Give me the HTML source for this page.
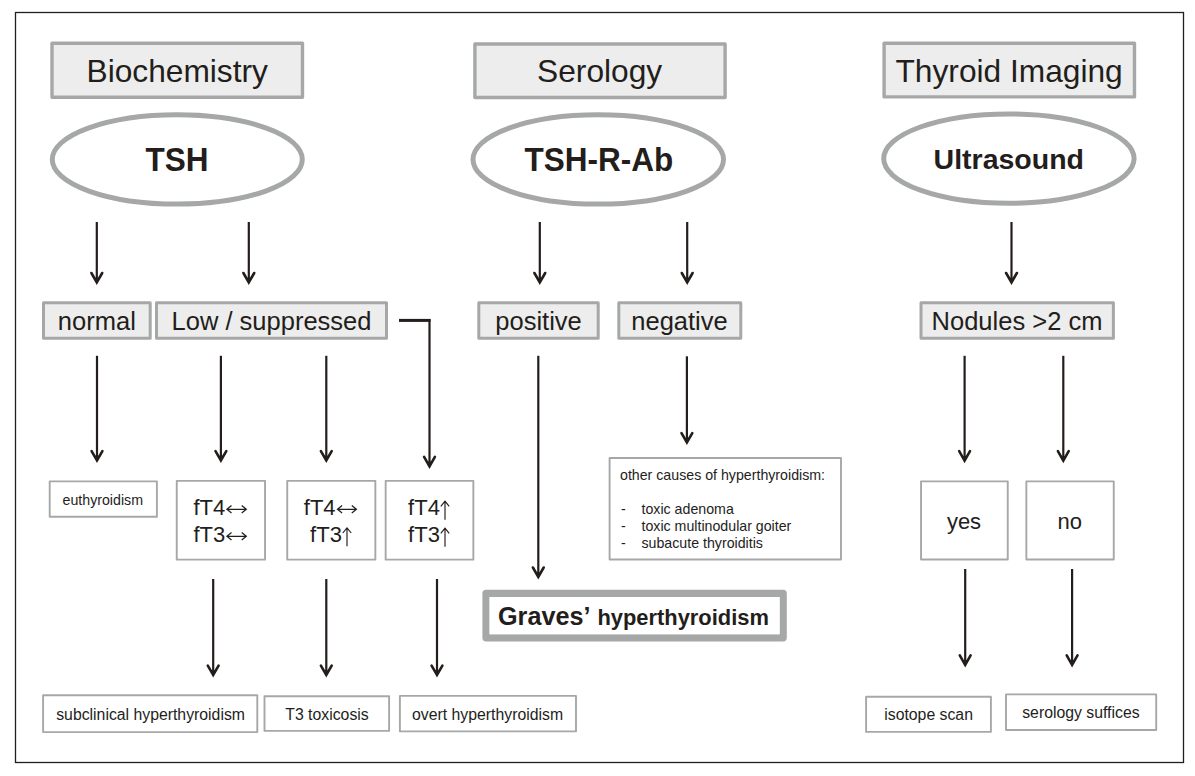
<!DOCTYPE html>
<html><head><meta charset="utf-8"><style>
html,body{margin:0;padding:0;background:#fff;width:1195px;height:776px;overflow:hidden}
svg{display:block}
text{font-family:"Liberation Sans",sans-serif;fill:#231d1b}
</style></head><body>
<svg width="1195" height="776" viewBox="0 0 1195 776">
<rect width="1195" height="776" fill="#fff"/>
<rect x="15.5" y="12.5" width="1168" height="750" fill="none" stroke="#231d1b" stroke-width="1.3"/>
<rect x="52.00" y="43.30" width="250.50" height="53.90" fill="#ecedec" stroke="#a6a8a8" stroke-width="3.4" stroke-linejoin="round"/>
<rect x="474.90" y="44.00" width="250.20" height="53.50" fill="#ecedec" stroke="#a6a8a8" stroke-width="3.4" stroke-linejoin="round"/>
<rect x="884.10" y="43.30" width="250.40" height="53.60" fill="#ecedec" stroke="#a6a8a8" stroke-width="3.4" stroke-linejoin="round"/>
<text x="86.50" y="81.80" font-size="31.7" font-weight="normal" text-anchor="start" >Biochemistry</text>
<text x="537.10" y="81.80" font-size="31.7" font-weight="normal" text-anchor="start" >Serology</text>
<text x="895.50" y="81.80" font-size="31.7" font-weight="normal" text-anchor="start" >Thyroid Imaging</text>
<ellipse cx="177.30" cy="159.45" rx="125.00" ry="44.65" fill="none" stroke="#a6a8a8" stroke-width="5.0"/>
<ellipse cx="598.25" cy="159.45" rx="125.25" ry="44.65" fill="none" stroke="#a6a8a8" stroke-width="5.0"/>
<ellipse cx="1008.90" cy="158.60" rx="125.20" ry="44.70" fill="none" stroke="#a6a8a8" stroke-width="5.0"/>
<text transform="translate(177.00 171.00) scale(1 1.05)" x="0" y="0" font-size="31.5" font-weight="bold" text-anchor="middle" >TSH</text>
<text transform="translate(598.80 171.00) scale(1 1.05)" x="0" y="0" font-size="31.5" font-weight="bold" text-anchor="middle" >TSH-R-Ab</text>
<text x="1008.80" y="169.40" font-size="28.5" font-weight="bold" text-anchor="middle" >Ultrasound</text>
<path d="M96.80 222.00 V280.40" stroke="#231d1b" stroke-width="2.2" fill="none"/>
<path d="M91.40 273.00 L96.80 282.40 L102.20 273.00" stroke="#231d1b" stroke-width="2.6" fill="none" stroke-linecap="round" stroke-linejoin="miter" stroke-miterlimit="10"/>
<path d="M93.90 277.70 L99.70 277.70 L96.80 283.30Z" fill="#231d1b"/>
<path d="M248.80 222.00 V280.40" stroke="#231d1b" stroke-width="2.2" fill="none"/>
<path d="M243.40 273.00 L248.80 282.40 L254.20 273.00" stroke="#231d1b" stroke-width="2.6" fill="none" stroke-linecap="round" stroke-linejoin="miter" stroke-miterlimit="10"/>
<path d="M245.90 277.70 L251.70 277.70 L248.80 283.30Z" fill="#231d1b"/>
<path d="M539.80 222.00 V280.40" stroke="#231d1b" stroke-width="2.2" fill="none"/>
<path d="M534.40 273.00 L539.80 282.40 L545.20 273.00" stroke="#231d1b" stroke-width="2.6" fill="none" stroke-linecap="round" stroke-linejoin="miter" stroke-miterlimit="10"/>
<path d="M536.90 277.70 L542.70 277.70 L539.80 283.30Z" fill="#231d1b"/>
<path d="M687.20 222.00 V280.40" stroke="#231d1b" stroke-width="2.2" fill="none"/>
<path d="M681.80 273.00 L687.20 282.40 L692.60 273.00" stroke="#231d1b" stroke-width="2.6" fill="none" stroke-linecap="round" stroke-linejoin="miter" stroke-miterlimit="10"/>
<path d="M684.30 277.70 L690.10 277.70 L687.20 283.30Z" fill="#231d1b"/>
<path d="M1011.50 222.00 V280.40" stroke="#231d1b" stroke-width="2.2" fill="none"/>
<path d="M1006.10 273.00 L1011.50 282.40 L1016.90 273.00" stroke="#231d1b" stroke-width="2.6" fill="none" stroke-linecap="round" stroke-linejoin="miter" stroke-miterlimit="10"/>
<path d="M1008.60 277.70 L1014.40 277.70 L1011.50 283.30Z" fill="#231d1b"/>
<rect x="43.50" y="302.70" width="106.70" height="35.50" fill="#ecedec" stroke="#a6a8a8" stroke-width="3.0" stroke-linejoin="round"/>
<rect x="156.50" y="302.70" width="230.00" height="35.50" fill="#ecedec" stroke="#a6a8a8" stroke-width="3.0" stroke-linejoin="round"/>
<rect x="478.80" y="302.70" width="119.40" height="35.50" fill="#ecedec" stroke="#a6a8a8" stroke-width="3.0" stroke-linejoin="round"/>
<rect x="618.80" y="302.70" width="122.00" height="35.50" fill="#ecedec" stroke="#a6a8a8" stroke-width="3.0" stroke-linejoin="round"/>
<rect x="921.00" y="302.70" width="192.40" height="35.50" fill="#ecedec" stroke="#a6a8a8" stroke-width="3.0" stroke-linejoin="round"/>
<text x="96.85" y="330.00" font-size="25.5" font-weight="normal" text-anchor="middle" >normal</text>
<text x="271.50" y="330.00" font-size="25.5" font-weight="normal" text-anchor="middle" >Low / suppressed</text>
<text x="538.50" y="330.00" font-size="25.5" font-weight="normal" text-anchor="middle" >positive</text>
<text x="679.50" y="330.00" font-size="25.5" font-weight="normal" text-anchor="middle" >negative</text>
<text x="1017.00" y="330.00" font-size="25.5" font-weight="normal" text-anchor="middle" >Nodules &gt;2 cm</text>
<path d="M399 320.4 H430.5" stroke="#231d1b" stroke-width="3" fill="none"/>
<path d="M429.50 319.00 V464.30" stroke="#231d1b" stroke-width="2.2" fill="none"/>
<path d="M424.10 456.90 L429.50 466.30 L434.90 456.90" stroke="#231d1b" stroke-width="2.6" fill="none" stroke-linecap="round" stroke-linejoin="miter" stroke-miterlimit="10"/>
<path d="M426.60 461.60 L432.40 461.60 L429.50 467.20Z" fill="#231d1b"/>
<path d="M97.00 355.80 V458.50" stroke="#231d1b" stroke-width="2.2" fill="none"/>
<path d="M91.60 451.10 L97.00 460.50 L102.40 451.10" stroke="#231d1b" stroke-width="2.6" fill="none" stroke-linecap="round" stroke-linejoin="miter" stroke-miterlimit="10"/>
<path d="M94.10 455.80 L99.90 455.80 L97.00 461.40Z" fill="#231d1b"/>
<path d="M220.90 355.80 V458.50" stroke="#231d1b" stroke-width="2.2" fill="none"/>
<path d="M215.50 451.10 L220.90 460.50 L226.30 451.10" stroke="#231d1b" stroke-width="2.6" fill="none" stroke-linecap="round" stroke-linejoin="miter" stroke-miterlimit="10"/>
<path d="M218.00 455.80 L223.80 455.80 L220.90 461.40Z" fill="#231d1b"/>
<path d="M326.30 355.80 V458.50" stroke="#231d1b" stroke-width="2.2" fill="none"/>
<path d="M320.90 451.10 L326.30 460.50 L331.70 451.10" stroke="#231d1b" stroke-width="2.6" fill="none" stroke-linecap="round" stroke-linejoin="miter" stroke-miterlimit="10"/>
<path d="M323.40 455.80 L329.20 455.80 L326.30 461.40Z" fill="#231d1b"/>
<path d="M686.90 356.30 V440.50" stroke="#231d1b" stroke-width="2.2" fill="none"/>
<path d="M681.50 433.10 L686.90 442.50 L692.30 433.10" stroke="#231d1b" stroke-width="2.6" fill="none" stroke-linecap="round" stroke-linejoin="miter" stroke-miterlimit="10"/>
<path d="M684.00 437.80 L689.80 437.80 L686.90 443.40Z" fill="#231d1b"/>
<path d="M964.60 355.80 V458.60" stroke="#231d1b" stroke-width="2.2" fill="none"/>
<path d="M959.20 451.20 L964.60 460.60 L970.00 451.20" stroke="#231d1b" stroke-width="2.6" fill="none" stroke-linecap="round" stroke-linejoin="miter" stroke-miterlimit="10"/>
<path d="M961.70 455.90 L967.50 455.90 L964.60 461.50Z" fill="#231d1b"/>
<path d="M1063.30 355.80 V458.60" stroke="#231d1b" stroke-width="2.2" fill="none"/>
<path d="M1057.90 451.20 L1063.30 460.60 L1068.70 451.20" stroke="#231d1b" stroke-width="2.6" fill="none" stroke-linecap="round" stroke-linejoin="miter" stroke-miterlimit="10"/>
<path d="M1060.40 455.90 L1066.20 455.90 L1063.30 461.50Z" fill="#231d1b"/>
<path d="M538.30 355.80 V574.90" stroke="#231d1b" stroke-width="2.2" fill="none"/>
<path d="M532.90 567.50 L538.30 576.90 L543.70 567.50" stroke="#231d1b" stroke-width="2.6" fill="none" stroke-linecap="round" stroke-linejoin="miter" stroke-miterlimit="10"/>
<path d="M535.40 572.20 L541.20 572.20 L538.30 577.80Z" fill="#231d1b"/>
<rect x="49.70" y="481.40" width="107.20" height="35.40" fill="none" stroke="#a6a8a8" stroke-width="1.9" stroke-linejoin="round"/>
<text x="102.75" y="504.60" font-size="14.2" font-weight="normal" text-anchor="middle" >euthyroidism</text>
<rect x="176.75" y="480.85" width="88.30" height="78.80" fill="none" stroke="#a6a8a8" stroke-width="1.9" stroke-linejoin="round"/>
<rect x="287.25" y="480.85" width="88.10" height="78.80" fill="none" stroke="#a6a8a8" stroke-width="1.9" stroke-linejoin="round"/>
<rect x="385.65" y="480.85" width="87.70" height="78.80" fill="none" stroke="#a6a8a8" stroke-width="1.9" stroke-linejoin="round"/>
<rect x="609.60" y="458.00" width="231.40" height="101.50" fill="none" stroke="#a6a8a8" stroke-width="1.9" stroke-linejoin="round"/>
<rect x="921.05" y="481.35" width="86.70" height="78.10" fill="none" stroke="#a6a8a8" stroke-width="1.9" stroke-linejoin="round"/>
<rect x="1026.35" y="481.35" width="87.40" height="78.10" fill="none" stroke="#a6a8a8" stroke-width="1.9" stroke-linejoin="round"/>
<text x="964.00" y="528.50" font-size="22" font-weight="normal" text-anchor="middle" >yes</text>
<text x="1069.80" y="528.50" font-size="22" font-weight="normal" text-anchor="middle" >no</text>
<text x="193.50" y="514.70" font-size="22" font-weight="normal" text-anchor="start" >fT4</text>
<path d="M227.40 509.30 H245.80 M231.50 505.60 L226.90 509.30 L231.50 513.00 M241.70 505.60 L246.30 509.30 L241.70 513.00" stroke="#231d1b" stroke-width="1.25" fill="none"/>
<text x="193.50" y="541.70" font-size="22" font-weight="normal" text-anchor="start" >fT3</text>
<path d="M227.40 536.30 H245.80 M231.50 532.60 L226.90 536.30 L231.50 540.00 M241.70 532.60 L246.30 536.30 L241.70 540.00" stroke="#231d1b" stroke-width="1.25" fill="none"/>
<text x="303.80" y="514.70" font-size="22" font-weight="normal" text-anchor="start" >fT4</text>
<path d="M338.00 509.30 H355.90 M342.10 505.60 L337.50 509.30 L342.10 513.00 M351.80 505.60 L356.40 509.30 L351.80 513.00" stroke="#231d1b" stroke-width="1.25" fill="none"/>
<text x="310.10" y="541.70" font-size="22" font-weight="normal" text-anchor="start" >fT3</text>
<path d="M347.00 546.30 V528.30 M342.80 533.00 L347.00 527.80 L351.20 533.00" stroke="#231d1b" stroke-width="1.15" fill="none"/>
<text x="408.10" y="514.70" font-size="22" font-weight="normal" text-anchor="start" >fT4</text>
<path d="M445.00 519.70 V501.60 M440.80 506.30 L445.00 501.10 L449.20 506.30" stroke="#231d1b" stroke-width="1.15" fill="none"/>
<text x="408.10" y="541.70" font-size="22" font-weight="normal" text-anchor="start" >fT3</text>
<path d="M445.00 546.70 V528.60 M440.80 533.30 L445.00 528.10 L449.20 533.30" stroke="#231d1b" stroke-width="1.15" fill="none"/>
<text x="620.00" y="479.60" font-size="14.2" font-weight="normal" text-anchor="start" >other causes of hyperthyroidism:</text>
<text x="621.00" y="514.00" font-size="14.2" font-weight="normal" text-anchor="start" >-</text>
<text x="641.50" y="514.00" font-size="14.2" font-weight="normal" text-anchor="start" >toxic adenoma</text>
<text x="621.00" y="531.00" font-size="14.2" font-weight="normal" text-anchor="start" >-</text>
<text x="641.50" y="531.00" font-size="14.2" font-weight="normal" text-anchor="start" >toxic multinodular goiter</text>
<text x="621.00" y="548.00" font-size="14.2" font-weight="normal" text-anchor="start" >-</text>
<text x="641.50" y="548.00" font-size="14.2" font-weight="normal" text-anchor="start" >subacute thyroiditis</text>
<path d="M213.20 579.00 V673.00" stroke="#231d1b" stroke-width="2.2" fill="none"/>
<path d="M207.80 665.60 L213.20 675.00 L218.60 665.60" stroke="#231d1b" stroke-width="2.6" fill="none" stroke-linecap="round" stroke-linejoin="miter" stroke-miterlimit="10"/>
<path d="M210.30 670.30 L216.10 670.30 L213.20 675.90Z" fill="#231d1b"/>
<path d="M326.30 579.00 V673.00" stroke="#231d1b" stroke-width="2.2" fill="none"/>
<path d="M320.90 665.60 L326.30 675.00 L331.70 665.60" stroke="#231d1b" stroke-width="2.6" fill="none" stroke-linecap="round" stroke-linejoin="miter" stroke-miterlimit="10"/>
<path d="M323.40 670.30 L329.20 670.30 L326.30 675.90Z" fill="#231d1b"/>
<path d="M437.00 579.00 V673.00" stroke="#231d1b" stroke-width="2.2" fill="none"/>
<path d="M431.60 665.60 L437.00 675.00 L442.40 665.60" stroke="#231d1b" stroke-width="2.6" fill="none" stroke-linecap="round" stroke-linejoin="miter" stroke-miterlimit="10"/>
<path d="M434.10 670.30 L439.90 670.30 L437.00 675.90Z" fill="#231d1b"/>
<path d="M965.20 569.00 V662.80" stroke="#231d1b" stroke-width="2.2" fill="none"/>
<path d="M959.80 655.40 L965.20 664.80 L970.60 655.40" stroke="#231d1b" stroke-width="2.6" fill="none" stroke-linecap="round" stroke-linejoin="miter" stroke-miterlimit="10"/>
<path d="M962.30 660.10 L968.10 660.10 L965.20 665.70Z" fill="#231d1b"/>
<path d="M1072.10 569.00 V662.80" stroke="#231d1b" stroke-width="2.2" fill="none"/>
<path d="M1066.70 655.40 L1072.10 664.80 L1077.50 655.40" stroke="#231d1b" stroke-width="2.6" fill="none" stroke-linecap="round" stroke-linejoin="miter" stroke-miterlimit="10"/>
<path d="M1069.20 660.10 L1075.00 660.10 L1072.10 665.70Z" fill="#231d1b"/>
<rect x="486.00" y="593.40" width="297.20" height="44.40" fill="none" stroke="#a6a8a8" stroke-width="7.2" stroke-linejoin="round"/>
<rect x="489.6" y="597" width="290" height="37.2" fill="#fff"/>
<text x="498.00" y="624.90" font-size="25.2" font-weight="bold" text-anchor="start" >Graves’</text>
<text x="597.40" y="624.90" font-size="21.9" font-weight="bold" text-anchor="start" >hyperthyroidism</text>
<rect x="43.10" y="695.20" width="214.20" height="36.90" fill="none" stroke="#a6a8a8" stroke-width="1.9" stroke-linejoin="round"/>
<rect x="264.50" y="696.30" width="124.60" height="34.60" fill="none" stroke="#a6a8a8" stroke-width="1.9" stroke-linejoin="round"/>
<rect x="399.90" y="695.90" width="176.10" height="35.50" fill="none" stroke="#a6a8a8" stroke-width="1.9" stroke-linejoin="round"/>
<rect x="866.10" y="696.80" width="124.80" height="35.10" fill="none" stroke="#a6a8a8" stroke-width="1.9" stroke-linejoin="round"/>
<rect x="1006.00" y="694.40" width="150.20" height="35.60" fill="none" stroke="#a6a8a8" stroke-width="1.9" stroke-linejoin="round"/>
<text x="150.60" y="719.50" font-size="15.8" font-weight="normal" text-anchor="middle" >subclinical hyperthyroidism</text>
<text x="327.00" y="719.50" font-size="15.8" font-weight="normal" text-anchor="middle" >T3 toxicosis</text>
<text x="487.60" y="719.50" font-size="15.8" font-weight="normal" text-anchor="middle" >overt hyperthyroidism</text>
<text x="928.60" y="719.50" font-size="15.8" font-weight="normal" text-anchor="middle" >isotope scan</text>
<text x="1080.90" y="717.70" font-size="15.8" font-weight="normal" text-anchor="middle" >serology suffices</text>
</svg>
</body></html>
